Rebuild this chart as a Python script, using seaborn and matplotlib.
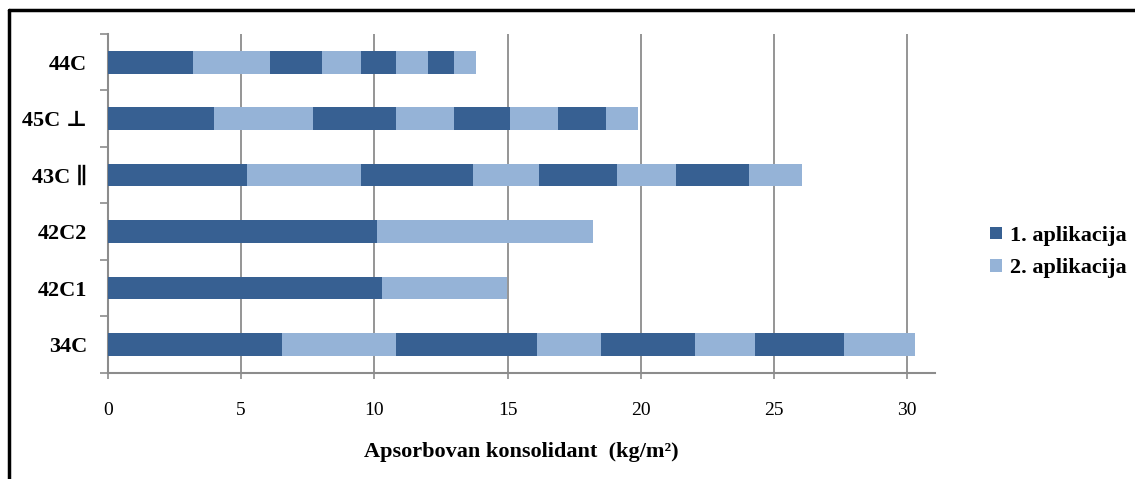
import numpy as np
import pandas as pd
import matplotlib
matplotlib.use("Agg")
import matplotlib.pyplot as plt
from matplotlib.lines import Line2D
import seaborn as sns

# Samples, listed top to bottom
categories = ["44C", "45C ⊥", "43C ∥", "42C2", "42C1", "34C"]

# Absorbed consolidant per application step (kg/m²), alternating 1st / 2nd application
seg_44C = [3.18, 2.92, 1.92, 1.47, 1.32, 1.21, 0.98, 0.81]
seg_45C = [3.97, 3.74, 3.10, 2.19, 2.10, 1.81, 1.79, 1.20]
seg_43C = [5.22, 4.27, 4.23, 2.48, 2.90, 2.22, 2.73, 1.99]
seg_42C2 = [10.10, 8.10]
seg_42C1 = [10.29, 4.69]
seg_34C = [6.52, 4.29, 5.30, 2.41, 3.51, 2.27, 3.34, 2.66]

series_names = ["1. aplikacija", "2. aplikacija"]
xticks = [0, 5, 10, 15, 20, 25, 30]

DARK = "#376092"
LIGHT = "#95B3D7"
GRID = "#8C8C8C"

segments = [seg_44C, seg_45C, seg_43C, seg_42C2, seg_42C1, seg_34C]
n_levels = max(len(s) for s in segments)

# cumulative ends of each stacked piece
rows = []
for cat, seg in zip(categories, segments):
    cum = np.cumsum(seg)
    for lvl in range(n_levels):
        rows.append({"sample": cat, "level": lvl,
                     "end": cum[min(lvl, len(seg) - 1)]})
df = pd.DataFrame(rows)

sns.set_theme(style="white")
plt.rcParams["font.family"] = ["Liberation Serif", "DejaVu Serif"]
plt.rcParams["text.color"] = "black"
plt.rcParams["axes.labelcolor"] = "black"
plt.rcParams["xtick.labelcolor"] = "black"
plt.rcParams["ytick.labelcolor"] = "black"

fig = plt.figure(figsize=(11.35, 4.79), dpi=100)
ax = fig.add_axes([108 / 1135, 1 - 372.7 / 479, (935 - 108) / 1135, (372.7 - 34) / 479])

# draw from the longest cumulative piece down so shorter ones sit on top
for lvl in reversed(range(n_levels)):
    sub = df[df["level"] == lvl]
    is_first = lvl % 2 == 0
    label = None
    if lvl == 0:
        label = series_names[0]
    elif lvl == 1:
        label = series_names[1]
    sns.barplot(data=sub, x="end", y="sample", order=categories, orient="h",
                color=DARK if is_first else LIGHT, saturation=1, width=0.4,
                linewidth=0, ax=ax, label=label, zorder=3)

ax.set_xlim(0, 31.05)
ax.set_ylim(5.5, -0.5)
ax.set_xticks(xticks)
ax.set_xticklabels([str(t) for t in xticks], fontsize=14)
for t in xticks[1:]:
    ax.axvline(t, color=GRID, lw=1.3, zorder=1)

# category labels at bar centres, tick marks at category boundaries
ax.set_yticks(range(len(categories)))
ax.set_yticklabels(categories, fontsize=16, fontweight="bold")
ax.set_yticks(np.arange(-0.5, len(categories) + 0.5, 1), minor=True)
ax.tick_params(axis="y", which="major", length=0, pad=15)
ax.tick_params(axis="y", which="minor", left=True, length=6, width=1.2, color=GRID, direction="out")
ax.tick_params(axis="x", which="major", bottom=True, length=4, width=1.2, color=GRID,
               direction="out", pad=17)

for side in ["top", "right"]:
    ax.spines[side].set_visible(False)
for side in ["left", "bottom"]:
    ax.spines[side].set_color(GRID)
    ax.spines[side].set_linewidth(1.5)

ax.set_ylabel("")
ax.set_xlabel("Apsorbovan konsolidant  (kg/m²)", fontsize=16, fontweight="bold")
ax.xaxis.set_label_coords(0.5, -0.235)
ax.xaxis.label.set_va("center")

handles, labels = ax.get_legend_handles_labels()
order = [labels.index(n) for n in series_names]
leg = fig.legend([handles[i] for i in order], [labels[i] for i in order],
                 loc="center left", bbox_to_anchor=(0.855, 1 - 252 / 479),
                 frameon=False, handlelength=0.5, handleheight=0.5,
                 handletextpad=0.4, labelspacing=0.55,
                 prop={"size": 16, "weight": "bold"})
if ax.get_legend() is not None:
    ax.get_legend().remove()

# outer frame lines on the left and top edges
fig.add_artist(Line2D([8.5 / 1135, 8.5 / 1135], [0, 1 - 10 / 479],
                      transform=fig.transFigure, color="black", lw=2.5))
fig.add_artist(Line2D([8.5 / 1135, 1], [1 - 10 / 479, 1 - 10 / 479],
                      transform=fig.transFigure, color="black", lw=2.5))

fig.savefig("out.png", dpi=100)
